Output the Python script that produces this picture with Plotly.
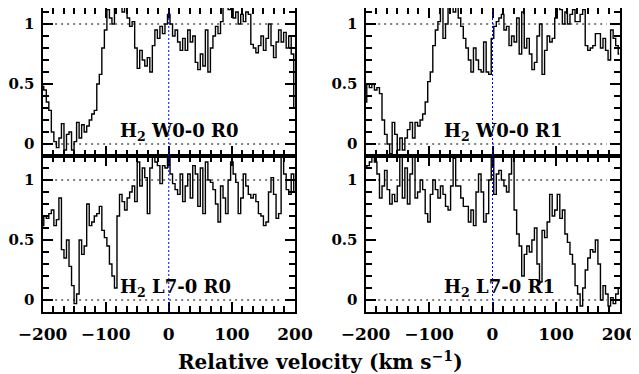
import plotly.graph_objects as go

# velocity grid (km/s), 4 km/s bins
velocity = list(range(-200, 201, 4))

# normalised flux, H2 W0-0 R0 (top left)
w00_r0 = [0.48, 0.45, 0.35, 0.28, 0.10, 0.02, -0.03, 0.05, 0.17, -0.05,
          0.08, 0.10, -0.05, 0.02, 0.18, 0.05, 0.16, 0.10, 0.15, 0.20,
          0.25, 0.28, 0.50, 0.58, 0.80, 0.95, 1.12, 1.05, 1.00, 1.18,
          1.22, 1.15, 1.10, 1.22, 1.05, 0.98, 1.02, 0.80, 0.63, 0.78,
          0.70, 0.65, 0.72, 0.60, 0.82, 0.95, 0.88, 0.98, 0.92, 1.00,
          1.08, 1.00, 0.90, 0.95, 0.85, 0.78, 0.88, 0.78, 0.95, 0.85,
          0.90, 0.68, 0.62, 0.75, 0.65, 0.95, 0.60, 0.80, 0.90, 0.98,
          0.92, 1.02, 1.18, 1.22, 1.12, 1.20, 1.05, 1.10, 1.00, 1.08,
          1.02, 1.10, 1.08, 0.83, 0.80, 0.76, 0.82, 0.90, 0.78, 0.88,
          1.00, 0.82, 0.72, 0.85, 0.95, 0.85, 0.93, 0.80, 0.90, 0.75,
          0.30]

# normalised flux, H2 W0-0 R1 (top right)
w00_r1 = [0.35, 0.50, 0.47, 0.50, 0.45, 0.47, 0.42, 0.20, 0.08, 0.00,
          -0.08, 0.18, 0.08, -0.05, 0.05, -0.05, 0.05, 0.12, 0.18, 0.05,
          0.18, 0.15, 0.20, 0.25, 0.35, 0.52, 0.60, 0.82, 0.95, 1.02,
          1.15, 0.88, 1.00, 1.15, 1.20, 1.10, 1.20, 1.05, 0.98, 0.88,
          0.80, 0.70, 0.60, 0.80, 0.70, 0.62, 0.60, 0.85, 0.60, 0.58,
          0.88, 0.98, 1.02, 1.05, 1.08, 0.95, 0.98, 0.82, 0.90, 0.85,
          1.05, 0.75, 1.10, 0.80, 0.88, 0.75, 0.62, 0.68, 0.90, 1.00,
          0.58, 0.78, 0.90, 0.85, 0.88, 1.05, 1.20, 1.12, 1.00, 1.10,
          1.00, 1.08, 1.12, 1.02, 1.02, 1.08, 1.12, 0.82, 0.78, 0.80,
          0.82, 0.92, 0.92, 0.80, 0.88, 0.78, 0.70, 0.95, 0.88, 0.82,
          0.75]

# normalised flux, H2 L7-0 R0 (bottom left)
l70_r0 = [0.62, 0.70, 0.68, 0.72, 0.75, 0.62, 0.67, 0.85, 0.42, 0.35,
          0.50, 0.28, 0.12, -0.03, 0.05, 0.50, 0.38, 0.45, 0.80, 0.62,
          0.65, 0.70, 0.72, 0.78, 0.58, 0.52, 0.45, 0.30, 0.20, 0.10,
          0.70, 0.88, 0.82, 0.75, 0.85, 0.90, 0.95, 0.82, 1.15, 0.95,
          1.10, 1.02, 0.72, 1.10, 1.20, 1.15, 1.12, 0.97, 1.12, 1.10,
          1.20, 1.05, 0.97, 0.92, 0.88, 1.05, 0.82, 0.95, 1.05, 0.85,
          1.12, 1.05, 0.78, 1.10, 0.72, 1.15, 1.00, 0.98, 0.92, 0.80,
          0.65, 0.95, 0.85, 0.72, 1.00, 1.15, 1.05, 0.98, 0.72, 0.85,
          1.05, 0.95, 0.88, 0.85, 0.88, 0.82, 0.72, 0.70, 0.62, 0.65,
          0.90, 1.02, 0.88, 0.68, 0.72, 1.20, 1.05, 0.92, 0.88, 1.05,
          0.90]

# normalised flux, H2 L7-0 R1 (bottom right)
l70_r1 = [1.10, 1.12, 1.15, 1.20, 1.15, 1.05, 0.85, 0.95, 1.08, 0.92,
          0.80, 0.88, 0.82, 0.95, 1.20, 0.85, 1.10, 0.80, 1.05, 1.20,
          0.85, 0.90, 1.00, 0.92, 0.72, 0.65, 0.88, 1.00, 0.92, 0.85,
          0.95, 0.88, 0.78, 0.75, 0.95, 1.18, 0.95, 0.95, 0.85, 0.78,
          0.78, 0.65, 0.75, 0.62, 0.90, 1.05, 0.90, 0.65, 0.72, 1.00,
          1.20, 0.88, 1.05, 1.08, 1.00, 0.95, 0.90, 1.05, 1.20, 0.75,
          0.55, 0.45, 0.20, 0.38, 0.45, 0.40, 0.50, 0.60, 0.30, 0.15,
          0.58, 0.52, 0.65, 0.88, 0.70, 0.75, 0.88, 0.68, 0.75, 0.55,
          0.48, 0.38, 0.30, 0.12, 0.05, -0.05, 0.10, 0.25, 0.35, 0.42,
          0.40, 0.50, 0.30, 0.00, 0.12, 0.05, -0.05, 0.02, -0.03, 0.05,
          0.10]

panels = [w00_r0, w00_r1, l70_r0, l70_r1]
labels = ["H<sub>2</sub> W0-0 R0", "H<sub>2</sub> W0-0 R1",
          "H<sub>2</sub> L7-0 R0", "H<sub>2</sub> L7-0 R1"]

# the page body has an 8px margin, so the figure is 8px smaller than the window
# and every pixel position below is window position minus 8
W, H = 631, 366
FONT = dict(family="DejaVu Serif", size=17, color="black", weight="bold")

x_dom = [[34.5 / W, 287 / W], [357.5 / W, 611.5 / W]]
y_dom = [[1 - 148 / H, 1.0], [1 - 304 / H, 1 - 148 / H]]
# top row starts 8px lower than in the window, so its range is cut at the top
y_rng = [[-0.1, 1 + 16 / 120], [-0.1, 1.2]]

fig = go.Figure()

for i, flux in enumerate(panels):
    n = "" if i == 0 else str(i + 1)
    fig.add_trace(go.Scatter(
        x=velocity, y=flux, mode="lines",
        line=dict(color="black", width=1.4, shape="hvh"),
        xaxis="x" + n, yaxis="y" + n, showlegend=False,
    ))

axis_common = dict(
    showline=True, linecolor="black", linewidth=2, mirror="allticks",
    ticks="inside", tickcolor="black", tickwidth=1.5, ticklen=10,
    showgrid=False, zeroline=False, tickfont=FONT, automargin=False,
)

layout = dict(
    width=W, height=H, margin=dict(l=0, r=0, t=0, b=0),
    paper_bgcolor="white", plot_bgcolor="white", showlegend=False,
)

shapes = []
annotations = []
for i in range(4):
    n = "" if i == 0 else str(i + 1)
    row, col = i // 2, i % 2
    layout["xaxis" + n] = dict(
        axis_common, domain=x_dom[col], anchor="y" + n,
        range=[-200, 200], tick0=0, dtick=100,
        minor=dict(dtick=100 / 6, ticklen=6, tickwidth=1.5,
                   tickcolor="black", ticks="inside"),
        showticklabels=(row == 1), ticklabelstandoff=6,
    )
    layout["yaxis" + n] = dict(
        axis_common, domain=y_dom[row], anchor="x" + n,
        range=y_rng[row], tick0=0, dtick=0.5,
        minor=dict(dtick=0.1, ticklen=6, tickwidth=1.5,
                   tickcolor="black", ticks="inside"),
        tickfont=dict(FONT, size=15), ticklabelstandoff=3,
    )
    xr, yr = "x" + n, "y" + n
    for level in (0, 1):
        shapes.append(dict(type="line", xref=xr, yref=yr,
                           x0=-180, x1=180, y0=level, y1=level,
                           line=dict(color="black", width=1, dash="2px,4px")))
    shapes.append(dict(type="line", xref=xr, yref=yr,
                       x0=0, x1=0, y0=-0.1, y1=1.2,
                       line=dict(color="blue", width=1, dash="2px,2px")))
    annotations.append(dict(
        text=labels[i], xref=xr, yref=yr, x=-80, y=0.1,
        xanchor="left", yanchor="middle", showarrow=False,
        font=dict(FONT, size=18),
    ))

annotations.append(dict(
    text="Relative velocity (km s<sup>−1</sup>)", xref="paper", yref="paper",
    x=(320 - 8) / W, y=1 - (361 - 8) / H, xanchor="center", yanchor="middle",
    showarrow=False, font=dict(FONT, size=20),
))

layout["shapes"] = shapes
layout["annotations"] = annotations
fig.update_layout(**layout)

fig.write_html("out.html")
